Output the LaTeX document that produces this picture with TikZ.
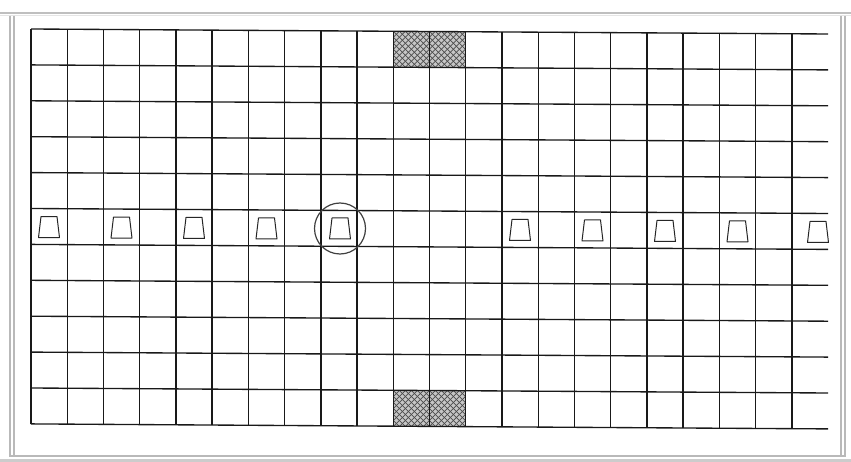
\documentclass[tikz,border=0pt]{standalone}
\usetikzlibrary{shapes.geometric}
\begin{document}
\begin{tikzpicture}[x=1pt,y=-1pt]
\tikzset{
  gridline/.style={black!90,line width=1.35pt},
  frameline/.style={gray!55,line width=1.5pt},
  hatchline/.style={black!70,line width=0.7pt},
  bucketline/.style={draw=black!85,line width=1pt,line join=round},
  ring/.style={draw=black!75,line width=1.2pt,circle,minimum size=51pt,inner sep=0pt}
}
\useasboundingbox (0,0) rectangle (851,462);
\fill[white] (0,0) rectangle (851,462);
% frame
\draw[gray!50,line width=2.5pt] (0,13) -- (851,13);
\draw[gray!20,line width=1pt] (0,16) -- (851,16);
\draw[frameline] (10,16) -- (10,457);
\draw[frameline] (14,16) -- (14,457);
\draw[frameline] (841,16) -- (841,457);
\draw[frameline] (845,16) -- (845,457);
\draw[gray!55,line width=2pt] (10,456) -- (845,456);
\draw[gray!40,line width=3pt] (0,460.5) -- (851,460.5);
% goal areas (hatched)
\begin{scope}
  \clip (393.3,31.3) rectangle (465.8,67.4);
  \fill[gray!45] (393.3,31.3) rectangle (465.8,67.4);
  \foreach \d in {-42,-36,...,84}{
    \draw[hatchline] (393.3+\d,31.3) -- ++(40,40);
    \draw[hatchline] (393.3+\d,67.4) -- ++(40,-40);
  }
\end{scope}
\begin{scope}
  \clip (393.3,390.5) rectangle (465.8,426.6);
  \fill[gray!45] (393.3,390.5) rectangle (465.8,426.6);
  \foreach \d in {-42,-36,...,84}{
    \draw[hatchline] (393.3+\d,390.5) -- ++(40,40);
    \draw[hatchline] (393.3+\d,426.6) -- ++(40,-40);
  }
\end{scope}
% grid
\foreach \k in {0,...,21}{
  \pgfmathsetmacro\xx{31+36.23*\k}
  \pgfmathsetmacro\tt{5*(\xx-31)/797}
  \draw[gridline] (\xx,29+\tt) -- (\xx,424+\tt);
}
\foreach \j in {0,...,11}{
  \pgfmathsetmacro\yy{29+35.9*\j}
  \draw[gridline] (31,\yy) -- (828,\yy+5);
}
% buckets
\coordinate (b1) at (49,227.1);
\coordinate (b2) at (121.5,227.6);
\coordinate (b3) at (194,228);
\coordinate (b4) at (266.5,228.5);
\coordinate (b5) at (340,228.5);
\coordinate (b6) at (520,230);
\coordinate (b7) at (592.5,230.5);
\coordinate (b8) at (665,231);
\coordinate (b9) at (737.5,231.3);
\coordinate (b10) at (818,232);
\foreach \b in {b1,b2,b3,b4,b5,b6,b7,b8,b9,b10}{
  \draw[bucketline,shift={(\b)}] (-8,-10.5) -- (8,-10.5) -- (10.5,10.5) -- (-10.5,10.5) -- cycle;
}
\node[ring] (r5) at (b5) {};
\end{tikzpicture}
\end{document}
